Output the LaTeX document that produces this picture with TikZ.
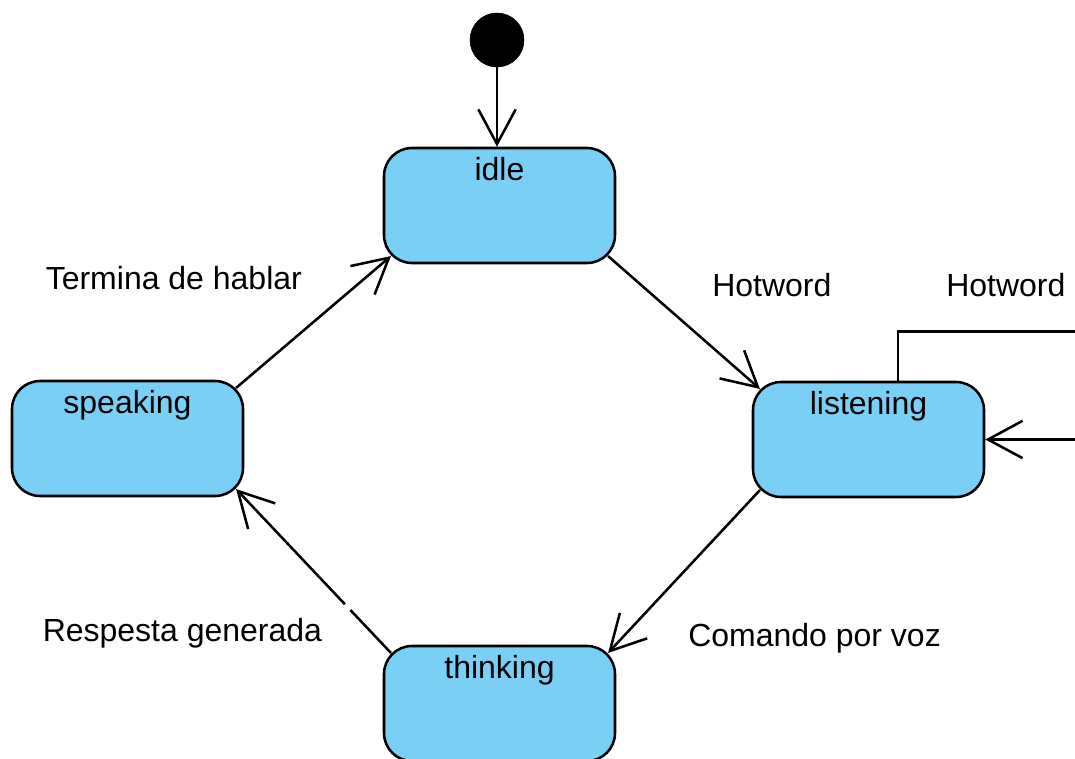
\documentclass[tikz,border=0pt]{standalone}
\usepackage{fontspec}
\setmainfont{Liberation Sans}
\usetikzlibrary{arrows.meta,calc}

\definecolor{statefill}{RGB}{122,207,245}

\tikzset{
  state/.style={draw=black, line width=1.9pt, fill=statefill, rounded corners=21pt,
    minimum width=173.25pt, minimum height=86.25pt, inner sep=0pt},
  statename/.style={label={[anchor=base, inner sep=0pt, yshift=-25.6pt, font=\fontsize{24}{28}\selectfont]north:#1}},
  initial/.style={circle, fill=black, draw=black, minimum size=40.5pt, inner sep=0pt},
  flow/.style={line width=1.9pt, -{Straight Barb[length=26pt, width=28pt, line width=1.9pt]}},
  tlabel/.style={anchor=base west, inner sep=0pt, font=\fontsize{24}{28}\selectfont},
}

\begin{document}
\begin{tikzpicture}[x=0.75pt, y=-0.75pt]
  \useasboundingbox (0,0) rectangle (1075,758);

  % states
  \node[initial] (init) at (497,40) {};
  \node[state, statename=idle] (idle) at (499.5,205.5) {};
  \node[state, statename=listening] (listening) at (868.5,439.5) {};
  \node[state, statename=speaking] (speaking) at (127.5,438.5) {};
  \node[state, statename=thinking] (thinking) at (499.5,703.5) {};

  % transitions (corner to corner on the rounded boxes)
  \def\d{8.2}
  \draw[flow] (init) -- (init |- idle.north);
  \draw[flow] ($(idle.south east)+(-\d,-\d)$) -- ($(listening.north west)+(\d,\d)$);
  \draw[flow] ($(listening.south west)+(\d,-\d)$) -- ($(thinking.north east)+(-\d,\d)$);
  \draw[flow, dash pattern=on 44.25pt off 6pt on 400pt]
    ($(thinking.north west)+(\d,\d)$) -- ($(speaking.south east)+(-\d,-\d)$);
  \draw[flow] ($(speaking.north east)+(-\d,\d)$) -- ($(idle.south west)+(\d,-\d)$);

  % self transition on listening
  \draw[flow] ($(listening.north)+(29.5,0)$) -- ++(0,-49)
    -| ($(listening.east)+(120,0)$) -- (listening.east);

  % transition labels
  \node[tlabel] (lhot) at (712,296.7) {Hotword};
  \node[tlabel] (lself) at (946,296.7) {Hotword};
  \node[tlabel] (lcmd) at (688,646) {Comando por voz};
  \node[tlabel] (lresp) at (42.5,641) {Respesta generada};
  \node[tlabel] (lend) at (45.5,289) {Termina de hablar};
\end{tikzpicture}
\end{document}
